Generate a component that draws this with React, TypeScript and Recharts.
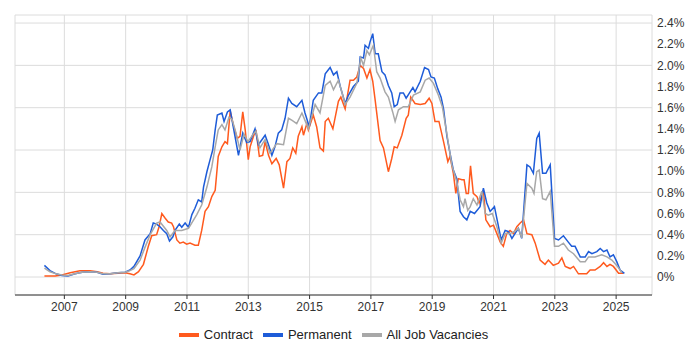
import React from "react";
import { LineChart, Line, XAxis, YAxis, CartesianGrid } from "recharts";

type P = [number, number];

const yearTicks = [2007, 2009, 2011, 2013, 2015, 2017, 2019, 2021, 2023, 2025];
const pctTicks = [0, 0.2, 0.4, 0.6, 0.8, 1.0, 1.2, 1.4, 1.6, 1.8, 2.0, 2.2, 2.4];

const contractSeries: P[] = [
  [2006.35, 0.01], [2006.7, 0.01], [2006.92, 0.02], [2007.19, 0.04], [2007.51, 0.06], [2007.84, 0.06],
  [2008.07, 0.05], [2008.26, 0.035], [2008.49, 0.03], [2008.75, 0.035], [2008.98, 0.04], [2009.14, 0.03],
  [2009.27, 0.02], [2009.42, 0.05], [2009.58, 0.12], [2009.74, 0.29], [2009.85, 0.39], [2010.01, 0.4],
  [2010.09, 0.475], [2010.18, 0.6], [2010.29, 0.555], [2010.39, 0.52], [2010.5, 0.51], [2010.56, 0.475],
  [2010.67, 0.35], [2010.77, 0.32], [2010.88, 0.33], [2010.99, 0.31], [2011.1, 0.32], [2011.26, 0.3],
  [2011.37, 0.3], [2011.48, 0.44], [2011.59, 0.62], [2011.7, 0.665], [2011.81, 0.76], [2011.92, 0.82],
  [2012.02, 1.14], [2012.14, 1.23], [2012.24, 1.28], [2012.32, 1.26], [2012.41, 1.57], [2012.51, 1.44],
  [2012.64, 1.31], [2012.73, 1.33], [2012.82, 1.56], [2012.9, 1.39], [2013.0, 1.11], [2013.06, 1.23],
  [2013.17, 1.33], [2013.25, 1.39], [2013.36, 1.14], [2013.47, 1.15], [2013.55, 1.28], [2013.66, 1.15],
  [2013.77, 1.07], [2013.91, 1.12], [2014.01, 1.06], [2014.15, 0.84], [2014.26, 1.09], [2014.36, 1.12],
  [2014.45, 1.22], [2014.55, 1.17], [2014.63, 1.33], [2014.75, 1.42], [2014.8, 1.34], [2014.91, 1.45],
  [2014.96, 1.39], [2015.12, 1.53], [2015.23, 1.42], [2015.34, 1.22], [2015.45, 1.19], [2015.51, 1.47],
  [2015.61, 1.5], [2015.76, 1.4], [2015.94, 1.66], [2016.02, 1.7], [2016.16, 1.59], [2016.32, 1.86],
  [2016.43, 1.86], [2016.54, 1.89], [2016.65, 2.0], [2016.76, 1.97], [2016.87, 1.88], [2016.97, 1.96],
  [2017.06, 1.85], [2017.14, 1.67], [2017.3, 1.29], [2017.41, 1.22], [2017.57, 0.995], [2017.68, 1.12],
  [2017.76, 1.23], [2017.86, 1.22], [2018.01, 1.34], [2018.15, 1.5], [2018.22, 1.53], [2018.3, 1.7],
  [2018.44, 1.64], [2018.61, 1.63], [2018.77, 1.64], [2018.9, 1.69], [2018.99, 1.64], [2019.09, 1.47],
  [2019.22, 1.47], [2019.37, 1.28], [2019.51, 1.09], [2019.58, 1.14], [2019.69, 0.98], [2019.77, 0.79],
  [2019.85, 0.93], [2019.97, 0.92], [2020.04, 0.92], [2020.11, 0.79], [2020.18, 0.79], [2020.25, 1.05],
  [2020.34, 0.79], [2020.46, 0.76], [2020.53, 0.7], [2020.67, 0.82], [2020.75, 0.54], [2020.89, 0.475],
  [2021.0, 0.49], [2021.11, 0.41], [2021.22, 0.33], [2021.32, 0.29], [2021.43, 0.41], [2021.54, 0.44],
  [2021.65, 0.41], [2021.76, 0.475], [2021.87, 0.51], [2021.98, 0.54], [2022.09, 0.41], [2022.25, 0.4],
  [2022.36, 0.32], [2022.52, 0.16], [2022.68, 0.12], [2022.79, 0.16], [2022.95, 0.11], [2023.12, 0.13],
  [2023.23, 0.18], [2023.34, 0.1], [2023.5, 0.08], [2023.61, 0.1], [2023.77, 0.03], [2024.04, 0.03],
  [2024.15, 0.066], [2024.31, 0.066], [2024.48, 0.1], [2024.59, 0.135], [2024.7, 0.1], [2024.8, 0.12],
  [2024.91, 0.1], [2025.08, 0.035], [2025.24, 0.035],
];

const permanentSeries: P[] = [
  [2006.35, 0.11], [2006.53, 0.06], [2006.73, 0.03], [2006.92, 0.015], [2007.12, 0.01], [2007.35, 0.03],
  [2007.58, 0.045], [2007.84, 0.05], [2008.07, 0.045], [2008.26, 0.025], [2008.49, 0.03], [2008.75, 0.04],
  [2008.98, 0.045], [2009.14, 0.066], [2009.27, 0.1], [2009.47, 0.2], [2009.63, 0.35], [2009.8, 0.41],
  [2009.9, 0.51], [2010.01, 0.5], [2010.12, 0.475], [2010.23, 0.44], [2010.34, 0.41], [2010.43, 0.34],
  [2010.54, 0.38], [2010.61, 0.44], [2010.75, 0.5], [2010.83, 0.47], [2010.94, 0.51], [2011.05, 0.47],
  [2011.16, 0.59], [2011.26, 0.65], [2011.37, 0.73], [2011.48, 0.71], [2011.54, 0.85], [2011.65, 0.995],
  [2011.75, 1.105], [2011.84, 1.2], [2011.92, 1.39], [2011.99, 1.53], [2012.14, 1.55], [2012.21, 1.47],
  [2012.32, 1.56], [2012.41, 1.58], [2012.51, 1.42], [2012.68, 1.15], [2012.82, 1.36], [2012.95, 1.27],
  [2013.06, 1.28], [2013.22, 1.4], [2013.33, 1.25], [2013.55, 1.34], [2013.66, 1.25], [2013.77, 1.15],
  [2013.87, 1.23], [2013.98, 1.36], [2014.09, 1.39], [2014.2, 1.5], [2014.31, 1.69], [2014.42, 1.64],
  [2014.58, 1.61], [2014.75, 1.67], [2014.85, 1.55], [2014.99, 1.42], [2015.12, 1.67], [2015.29, 1.74],
  [2015.4, 1.74], [2015.51, 1.92], [2015.67, 1.98], [2015.78, 1.91], [2015.89, 1.94], [2016.0, 1.8],
  [2016.16, 1.64], [2016.27, 1.72], [2016.43, 1.8], [2016.59, 1.85], [2016.65, 2.08], [2016.76, 2.07],
  [2016.81, 2.19], [2016.92, 2.16], [2016.97, 2.22], [2017.06, 2.3], [2017.14, 2.11], [2017.24, 2.11],
  [2017.36, 1.94], [2017.46, 1.91], [2017.57, 1.81], [2017.68, 1.74], [2017.76, 1.61], [2017.86, 1.63],
  [2017.95, 1.74], [2018.06, 1.74], [2018.15, 1.69], [2018.26, 1.74], [2018.37, 1.79], [2018.44, 1.75],
  [2018.61, 1.85], [2018.75, 1.98], [2018.88, 1.96], [2018.96, 1.89], [2019.07, 1.88], [2019.18, 1.78],
  [2019.29, 1.7], [2019.37, 1.59], [2019.48, 1.33], [2019.58, 1.17], [2019.69, 1.01], [2019.8, 0.93],
  [2019.91, 0.62], [2020.02, 0.57], [2020.13, 0.54], [2020.24, 0.62], [2020.38, 0.6], [2020.56, 0.665],
  [2020.67, 0.84], [2020.78, 0.7], [2020.89, 0.62], [2021.03, 0.665], [2021.14, 0.51], [2021.25, 0.35],
  [2021.38, 0.44], [2021.49, 0.43], [2021.6, 0.365], [2021.7, 0.41], [2021.81, 0.46], [2021.92, 0.365],
  [2022.09, 1.06], [2022.19, 1.04], [2022.3, 0.98], [2022.41, 1.31], [2022.49, 1.36], [2022.6, 0.98],
  [2022.71, 0.98], [2022.85, 1.06], [2022.99, 0.365], [2023.12, 0.35], [2023.28, 0.39], [2023.44, 0.33],
  [2023.55, 0.29], [2023.66, 0.29], [2023.83, 0.19], [2023.99, 0.19], [2024.1, 0.24], [2024.21, 0.22],
  [2024.37, 0.24], [2024.48, 0.27], [2024.59, 0.24], [2024.7, 0.255], [2024.8, 0.19], [2024.91, 0.21],
  [2025.02, 0.145], [2025.13, 0.066], [2025.27, 0.035],
];

const allJobsSeries: P[] = [
  [2006.35, 0.085], [2006.53, 0.05], [2006.73, 0.03], [2006.92, 0.02], [2007.12, 0.015], [2007.35, 0.03],
  [2007.58, 0.045], [2007.84, 0.05], [2008.07, 0.045], [2008.26, 0.03], [2008.49, 0.03], [2008.75, 0.04],
  [2008.98, 0.045], [2009.14, 0.06], [2009.27, 0.08], [2009.47, 0.16], [2009.63, 0.28], [2009.8, 0.4],
  [2010.01, 0.51], [2010.12, 0.52], [2010.34, 0.44], [2010.45, 0.38], [2010.61, 0.44], [2010.83, 0.44],
  [2011.05, 0.46], [2011.32, 0.59], [2011.48, 0.68], [2011.65, 0.85], [2011.81, 1.04], [2011.92, 1.23],
  [2012.02, 1.39], [2012.14, 1.44], [2012.24, 1.39], [2012.37, 1.51], [2012.47, 1.49], [2012.6, 1.36],
  [2012.73, 1.2], [2012.86, 1.35], [2012.99, 1.28], [2013.16, 1.35], [2013.25, 1.38], [2013.38, 1.22],
  [2013.55, 1.3], [2013.71, 1.17], [2013.93, 1.26], [2014.15, 1.25], [2014.31, 1.5], [2014.43, 1.48],
  [2014.58, 1.45], [2014.75, 1.55], [2014.85, 1.48], [2014.96, 1.4], [2015.18, 1.63], [2015.34, 1.55],
  [2015.51, 1.81], [2015.67, 1.85], [2015.78, 1.77], [2015.94, 1.86], [2016.05, 1.75], [2016.16, 1.63],
  [2016.32, 1.7], [2016.54, 1.83], [2016.67, 2.07], [2016.76, 2.0], [2016.87, 2.14], [2016.95, 2.1],
  [2017.08, 2.19], [2017.19, 1.94], [2017.3, 1.88], [2017.46, 1.75], [2017.57, 1.7], [2017.71, 1.56],
  [2017.79, 1.47], [2017.9, 1.58], [2018.06, 1.61], [2018.22, 1.61], [2018.39, 1.72], [2018.61, 1.75],
  [2018.77, 1.86], [2018.9, 1.88], [2019.04, 1.83], [2019.2, 1.72], [2019.33, 1.61], [2019.48, 1.35],
  [2019.64, 1.06], [2019.8, 0.9], [2019.91, 0.73], [2020.02, 0.665], [2020.07, 0.74], [2020.16, 0.63],
  [2020.24, 0.665], [2020.34, 0.74], [2020.46, 0.68], [2020.62, 0.81], [2020.73, 0.6], [2020.83, 0.585],
  [2020.96, 0.6], [2021.11, 0.475], [2021.25, 0.32], [2021.38, 0.41], [2021.54, 0.41], [2021.68, 0.43],
  [2021.81, 0.46], [2021.92, 0.37], [2022.09, 0.885], [2022.25, 0.84], [2022.32, 0.79], [2022.41, 0.995],
  [2022.49, 1.01], [2022.6, 0.74], [2022.71, 0.73], [2022.85, 0.81], [2022.99, 0.29], [2023.12, 0.29],
  [2023.28, 0.32], [2023.44, 0.255], [2023.61, 0.22], [2023.83, 0.145], [2023.99, 0.145], [2024.1, 0.19],
  [2024.31, 0.19], [2024.53, 0.21], [2024.7, 0.19], [2024.86, 0.16], [2025.02, 0.11], [2025.19, 0.04],
];

const seriesNames = ["Contract", "Permanent", "All Job Vacancies"];
const seriesColors = ["#ff5a1e", "#1e5cd8", "#a8a8a8"];

const toRows = (s: P[]) => s.map(([t, v]) => ({ t, v }));
const allSeries = [contractSeries, permanentSeries, allJobsSeries].map(toRows);

const fmtPct = (v: number) => (v === 0 ? "0%" : `${v.toFixed(1)}%`);

const FONT = "'Liberation Sans', Arial, sans-serif";

export default function App() {
  return (
    <div style={{ position: "relative", width: 692, height: 342, fontFamily: FONT }}>
      <LineChart width={692} height={342} margin={{ top: 7, right: 0, bottom: 25, left: 7 }}>
        <CartesianGrid stroke="#dcdcdc" strokeWidth={1} />
        <XAxis
          dataKey="t"
          type="number"
          domain={[2005.39, 2026.17]}
          allowDataOverflow
          ticks={yearTicks}
          tickFormatter={(v: number) => String(v)}
          height={30}
          tickSize={4}
          tickMargin={3}
          stroke="#333"
          tick={{ fill: "#333", fontSize: 12, fontFamily: FONT }}
        />
        <YAxis
          orientation="right"
          type="number"
          domain={[-0.17, 2.476]}
          allowDataOverflow
          ticks={pctTicks}
          tickFormatter={fmtPct}
          width={48}
          axisLine={false}
          tickLine={false}
          tickSize={0}
          tickMargin={5}
          tick={{ fill: "#333", fontSize: 12, fontFamily: FONT, textAnchor: "start" }}
        />
        {allSeries.map((rows, i) => (
          <Line
            key={seriesNames[i]}
            data={rows}
            dataKey="v"
            name={seriesNames[i]}
            type="linear"
            stroke={seriesColors[i]}
            strokeWidth={1.5}
            dot={false}
            activeDot={false}
            isAnimationActive={false}
          />
        ))}
      </LineChart>
      <div
        style={{
          position: "absolute",
          left: 7,
          top: 317,
          width: 637,
          height: 25,
          display: "flex",
          justifyContent: "center",
          alignItems: "flex-start",
          paddingTop: 2,
          boxSizing: "border-box",
          fontSize: 13,
          lineHeight: "16px",
          color: "#222",
        }}
      >
        {seriesNames.map((n, i) => (
          <div key={n} style={{ display: "flex", alignItems: "center", marginLeft: i === 0 ? 0 : 10 }}>
            <span style={{ display: "inline-block", width: 20, height: 4, background: seriesColors[i], marginRight: 5 }} />
            <span>{n}</span>
          </div>
        ))}
      </div>
    </div>
  );
}
